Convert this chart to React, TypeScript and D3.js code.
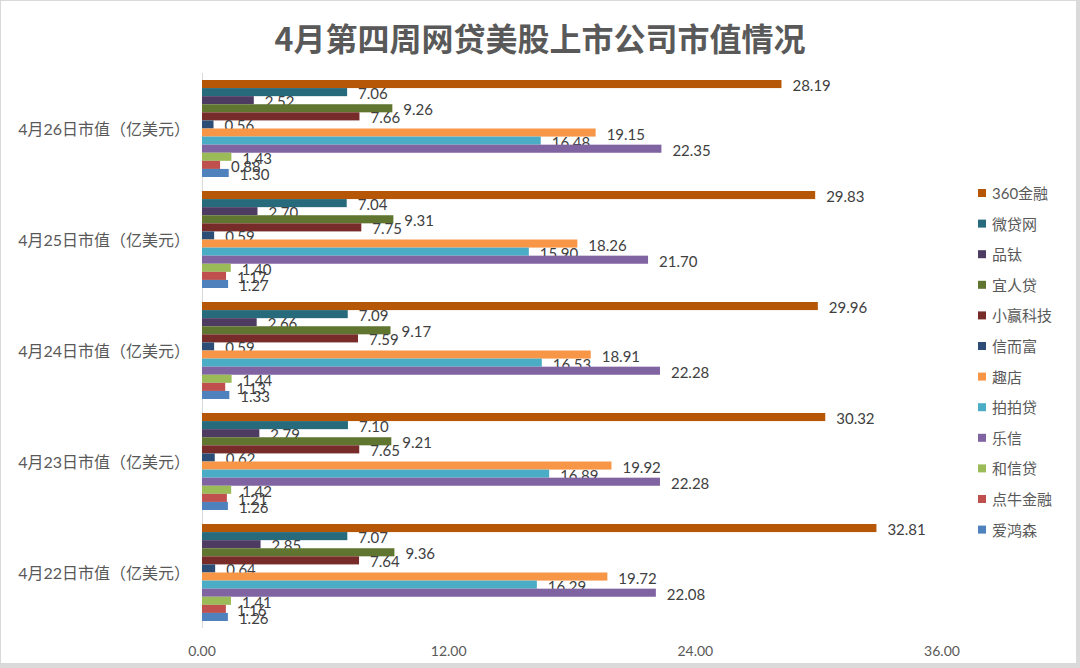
import React from 'react';
import * as d3 from 'd3';

const title = '4月第四周网贷美股上市公司市值情况';

const dates = ['4月26日', '4月25日', '4月24日', '4月23日', '4月22日'];

const companies = [
  '360金融', '微贷网', '品钛', '宜人贷', '小赢科技', '信而富',
  '趣店', '拍拍贷', '乐信', '和信贷', '点牛金融', '爱鸿森',
];

const colors = [
  '#B65708', '#276A7C', '#4D3B62', '#5F7530', '#772C2A', '#2C4D75',
  '#F79646', '#4BACC6', '#8064A2', '#9BBB59', '#C0504D', '#4F81BD',
];

// one row per date, values in company order
const apr26 = [28.19, 7.06, 2.52, 9.26, 7.66, 0.56, 19.15, 16.48, 22.35, 1.43, 0.88, 1.30];
const apr25 = [29.83, 7.04, 2.70, 9.31, 7.75, 0.59, 18.26, 15.90, 21.70, 1.40, 1.17, 1.27];
const apr24 = [29.96, 7.09, 2.66, 9.17, 7.59, 0.59, 18.91, 16.53, 22.28, 1.44, 1.13, 1.33];
const apr23 = [30.32, 7.10, 2.79, 9.21, 7.65, 0.62, 19.92, 16.89, 22.28, 1.42, 1.21, 1.26];
const apr22 = [32.81, 7.07, 2.85, 9.36, 7.64, 0.64, 19.72, 16.29, 22.08, 1.41, 1.16, 1.26];

const xTicks = [0, 12, 24, 36];

const W = 1080;
const H = 668;
const font = "Lato, 'Noto Sans CJK SC', sans-serif";

export default function App() {
  const rows = [apr26, apr25, apr24, apr23, apr22];
  const plot = { left: 202, right: 942, top: 73, bottom: 628 };

  const x = d3.scaleLinear().domain([0, 36]).range([plot.left, plot.right]);
  const y = d3
    .scaleBand<string>()
    .domain(dates)
    .range([plot.top, plot.bottom])
    .paddingInner(0.126)
    .paddingOuter(0.063);
  const ySub = d3
    .scaleBand<string>()
    .domain(companies)
    .range([0, y.bandwidth()]);

  return (
    <div style={{ position: 'fixed', left: 0, top: 0 }}>
      <svg width={W} height={H} style={{ display: 'block', background: '#fff' }}>
        {/* frame */}
        <rect x={0.5} y={0.5} width={W - 4} height={H - 5} fill="#fff" stroke="#d9d9d9" />
        <rect x={W - 3} y={0} width={3} height={H} fill="#dadada" />
        <rect x={0} y={H - 4} width={W} height={4} fill="#dadada" />

        <text
          x={540}
          y={37}
          textAnchor="middle"
          dominantBaseline="central"
          fontFamily="'Noto Sans CJK SC', sans-serif"
          fontWeight="bold"
          fontSize={32}
          fill="#595959"
        >
          {title}
        </text>

        {/* category axis */}
        <line x1={plot.left + 0.5} x2={plot.left + 0.5} y1={plot.top} y2={plot.bottom} stroke="#d9d9d9" />
        {dates.map(d => (
          <text
            key={d}
            x={190}
            y={(y(d) || 0) + y.bandwidth() / 2}
            textAnchor="end"
            dominantBaseline="central"
            fontFamily={font}
            fontSize={16}
            fill="#595959"
          >
            {d}市值（亿美元）
          </text>
        ))}

        {/* bars + labels */}
        {rows.map((vals, i) => {
          const g = y(dates[i]) || 0;
          return (
            <g key={dates[i]}>
              {vals.map((v, j) => {
                const by = g + (ySub(companies[j]) || 0);
                return (
                  <g key={companies[j]}>
                    <rect
                      x={x(0)}
                      y={by}
                      width={x(v) - x(0)}
                      height={ySub.bandwidth()}
                      fill={colors[j]}
                    />
                    <text
                      x={x(v) + 11}
                      y={by + ySub.bandwidth() / 2 + 1}
                      dominantBaseline="central"
                      fontFamily={font}
                      fontSize={15}
                      fill="#404040"
                    >
                      {v.toFixed(2)}
                    </text>
                  </g>
                );
              })}
            </g>
          );
        })}

        {/* value axis ticks */}
        {xTicks.map(t => (
          <text
            key={t}
            x={x(t)}
            y={650}
            textAnchor="middle"
            dominantBaseline="central"
            fontFamily={font}
            fontSize={14}
            fill="#595959"
          >
            {t.toFixed(2)}
          </text>
        ))}

        {/* legend */}
        {companies.map((c, j) => {
          const ly = 193 + j * 30.6;
          return (
            <g key={c}>
              <rect x={978} y={ly - 4} width={8} height={8} fill={colors[j]} />
              <text
                x={992}
                y={ly}
                dominantBaseline="central"
                fontFamily={font}
                fontSize={15}
                fill="#595959"
              >
                {c}
              </text>
            </g>
          );
        })}
      </svg>
    </div>
  );
}
